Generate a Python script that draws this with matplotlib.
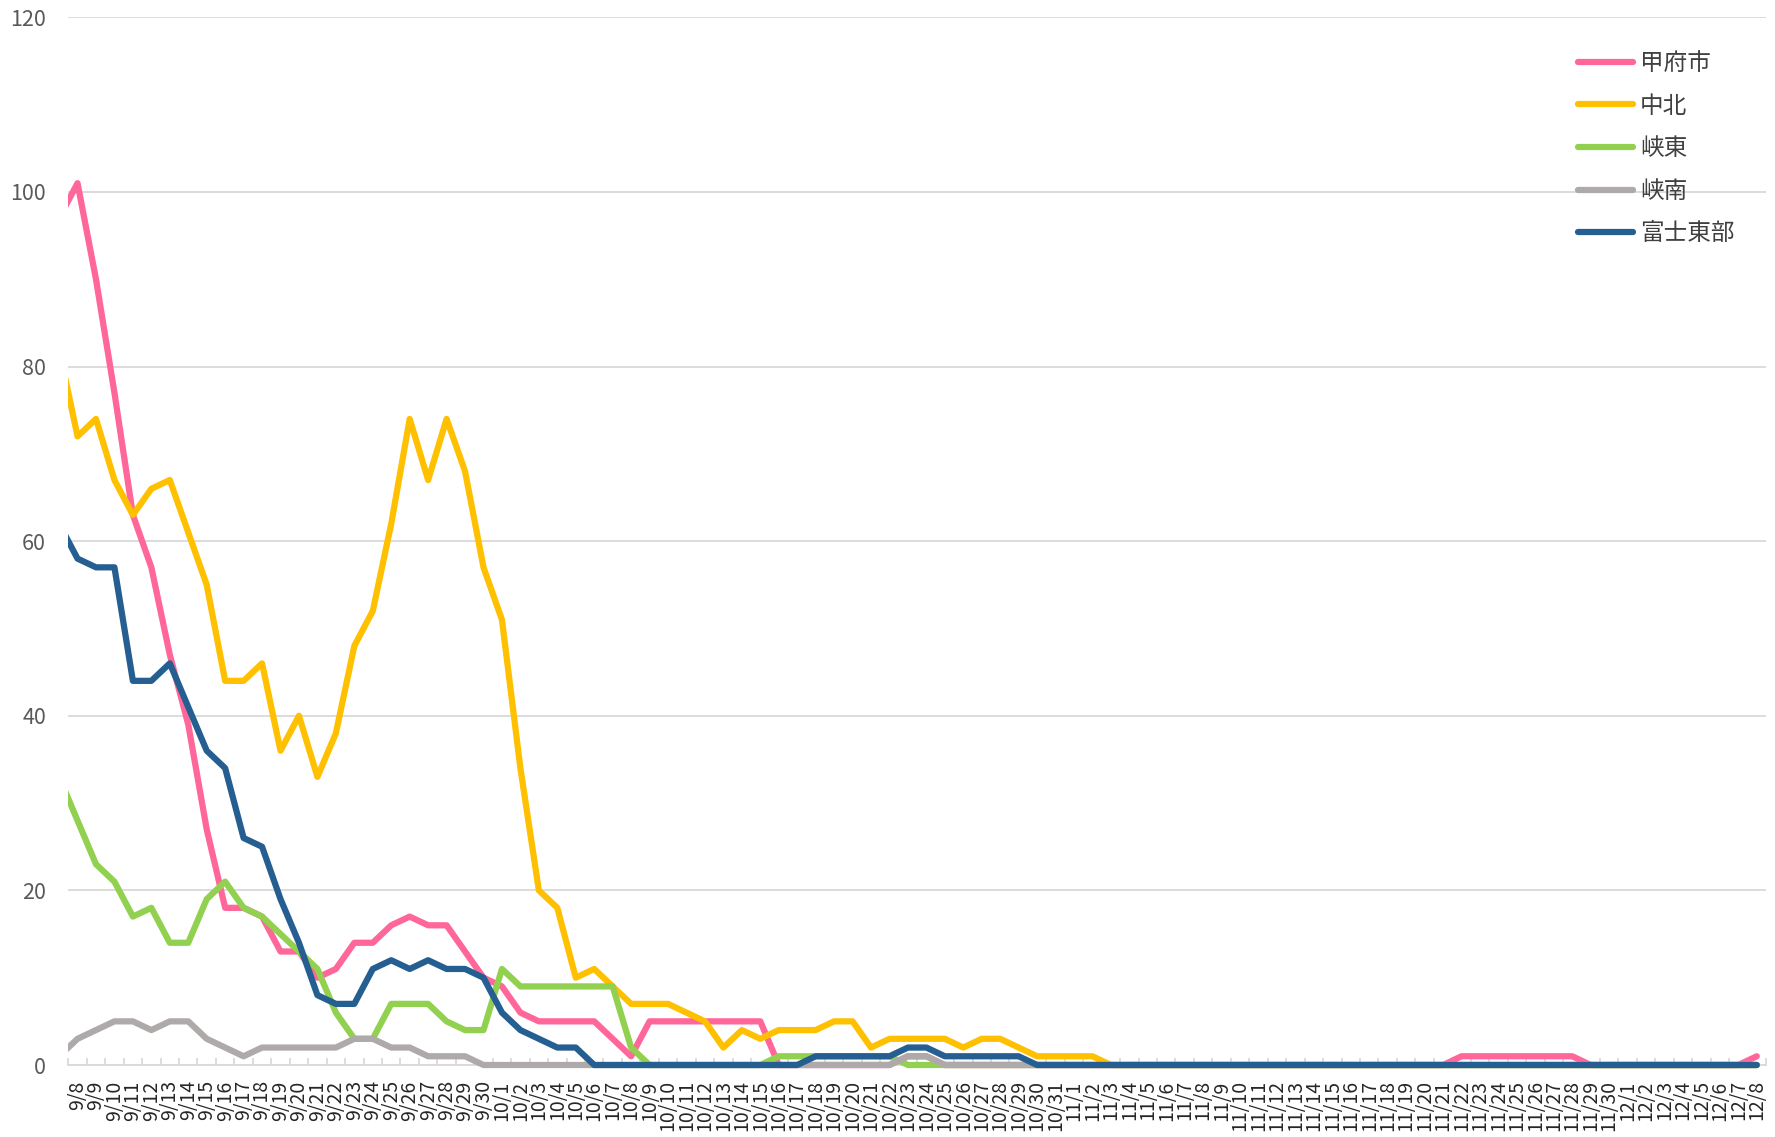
import matplotlib
matplotlib.use("Agg")
import matplotlib.pyplot as plt
from matplotlib.patches import Rectangle
import pandas as pd

plt.rcParams['font.family'] = ['Noto Sans CJK JP', 'DejaVu Sans']

# 9/7 is only partly visible at the left edge, the axis shows 9/8 .. 12/8
dates = pd.date_range("2021-09-07", "2021-12-08")
date_labels = [f"{d.month}/{d.day}" for d in dates]

names = ["甲府市", "中北", "峡東", "峡南", "富士東部"]
colors = ["#FF6699", "#FFC000", "#92D050", "#AEAAAA", "#255E91"]

# values: 9/7, then 9/8-9/30, 10/1-10/31, 11/1-11/30, 12/1-12/8
kofu = ([97]
        + [101, 90, 77, 63, 57, 47, 39, 27, 18, 18, 17, 13, 13, 10, 11, 14, 14, 16, 17, 16, 16, 13, 10]
        + [9, 6, 5, 5, 5, 5, 3, 1, 5, 5, 5, 5, 5, 5, 5, 0, 0, 0, 0, 0, 0, 0, 1, 1, 0, 0, 0, 0, 0, 0, 0]
        + [0, 0, 0, 0, 0, 0, 0, 0, 0, 0, 0, 0, 0, 0, 0, 0, 0, 0, 0, 0, 0, 1, 1, 1, 1, 1, 1, 1, 0, 0]
        + [0, 0, 0, 0, 0, 0, 0, 1])
chuhoku = ([82]
           + [72, 74, 67, 63, 66, 67, 61, 55, 44, 44, 46, 36, 40, 33, 38, 48, 52, 62, 74, 67, 74, 68, 57]
           + [51, 34, 20, 18, 10, 11, 9, 7, 7, 7, 6, 5, 2, 4, 3, 4, 4, 4, 5, 5, 2, 3, 3, 3, 3, 2, 3, 3, 2, 1, 1]
           + [1, 1, 0, 0, 0, 0, 0, 0, 0, 0, 0, 0, 0, 0, 0, 0, 0, 0, 0, 0, 0, 0, 0, 0, 0, 0, 0, 0, 0, 0]
           + [0, 0, 0, 0, 0, 0, 0, 0])
kyoto = ([33]
         + [28, 23, 21, 17, 18, 14, 14, 19, 21, 18, 17, 15, 13, 11, 6, 3, 3, 7, 7, 7, 5, 4, 4]
         + [11, 9, 9, 9, 9, 9, 9, 2, 0, 0, 0, 0, 0, 0, 0, 1, 1, 1, 1, 1, 1, 1, 0, 0, 0, 0, 0, 0, 0, 0, 0]
         + [0, 0, 0, 0, 0, 0, 0, 0, 0, 0, 0, 0, 0, 0, 0, 0, 0, 0, 0, 0, 0, 0, 0, 0, 0, 0, 0, 0, 0, 0]
         + [0, 0, 0, 0, 0, 0, 0, 0])
kyonan = ([1]
          + [3, 4, 5, 5, 4, 5, 5, 3, 2, 1, 2, 2, 2, 2, 2, 3, 3, 2, 2, 1, 1, 1, 0]
          + [0, 0, 0, 0, 0, 0, 0, 0, 0, 0, 0, 0, 0, 0, 0, 0, 0, 0, 0, 0, 0, 0, 1, 1, 0, 0, 0, 0, 0, 0, 0]
          + [0, 0, 0, 0, 0, 0, 0, 0, 0, 0, 0, 0, 0, 0, 0, 0, 0, 0, 0, 0, 0, 0, 0, 0, 0, 0, 0, 0, 0, 0]
          + [0, 0, 0, 0, 0, 0, 0, 0])
fuji_tobu = ([62]
             + [58, 57, 57, 44, 44, 46, 41, 36, 34, 26, 25, 19, 14, 8, 7, 7, 11, 12, 11, 12, 11, 11, 10]
             + [6, 4, 3, 2, 2, 0, 0, 0, 0, 0, 0, 0, 0, 0, 0, 0, 0, 1, 1, 1, 1, 1, 2, 2, 1, 1, 1, 1, 1, 0, 0]
             + [0, 0, 0, 0, 0, 0, 0, 0, 0, 0, 0, 0, 0, 0, 0, 0, 0, 0, 0, 0, 0, 0, 0, 0, 0, 0, 0, 0, 0, 0]
             + [0, 0, 0, 0, 0, 0, 0, 0])

series = [kofu, chuhoku, kyoto, kyonan, fuji_tobu]

W, H = 1775, 1137
fig = plt.figure(figsize=(W / 100, H / 100), dpi=100)
left, right, bottom, top = 68.3, 1766, 1065, 17.3
ax = fig.add_axes([left / W, 1 - bottom / H, (right - left) / W, (bottom - top) / H])

x = list(range(-1, len(dates) - 1))
x_min, x_max = -0.5, 91.3
clip = Rectangle((x_min, -10), x_max - x_min, 140, transform=ax.transData)

for vals, name, col in zip(series, names, colors):
    line, = ax.plot(x, vals, color=col, lw=4.5, label=name,
                    solid_joinstyle='round', solid_capstyle='round', zorder=3)
    line.set_clip_path(clip)

ax.set_xlim(x_min, x_max)
ax.set_ylim(0, 120)
ax.set_yticks(range(0, 121, 20))
ax.yaxis.grid(True, color="#D9D9D9", lw=1.3)
ax.set_axisbelow(True)

ax.set_xticks(x[1:])
ax.set_xticklabels(date_labels[1:], rotation=90, va='top', ha='center')
ax.set_xticks([i - 0.5 for i in range(len(dates))], minor=True)
ax.tick_params(axis='x', which='major', length=0, pad=11, labelsize=14, labelcolor='#262626')
ax.tick_params(axis='x', which='minor', direction='in', length=5, width=1.3, color='#D9D9D9')
ax.tick_params(axis='y', length=0, pad=16, labelsize=15.5, labelcolor='#595959')

for s in ['top', 'right', 'left']:
    ax.spines[s].set_visible(False)
ax.spines['bottom'].set_color('#D9D9D9')
ax.spines['bottom'].set_linewidth(1.3)

leg = ax.legend(loc='upper left', bbox_to_anchor=(1578 / W, 1 - 52 / H),
                bbox_transform=fig.transFigure, frameon=False, borderpad=0,
                borderaxespad=0, handlelength=2.33, handletextpad=0.3,
                labelspacing=0.83, fontsize=17)
for t in leg.get_texts():
    t.set_color('#404040')

fig.savefig("out.png", dpi=100)
